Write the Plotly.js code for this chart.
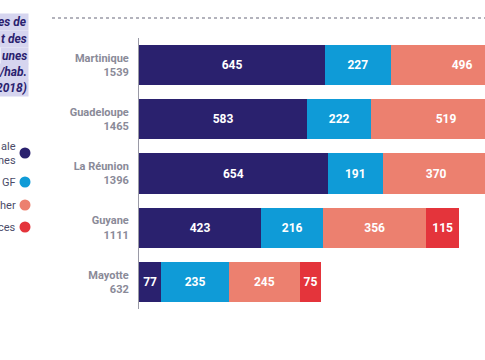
<!DOCTYPE html>
<html>
<head>
<meta charset="utf-8">
<script src="https://cdn.plot.ly/plotly-3.0.1.min.js"></script>
<style>html,body{margin:0;padding:0;background:#fff;}#chart{width:485px;height:360px;}</style>
</head>
<body>
<div id="chart"></div>
<script>
// Data
const territories = ["Martinique", "Guadeloupe", "La Réunion", "Guyane", "Mayotte"];
const totals = [1539, 1465, 1396, 1111, 632];
const seriesNames = ["ale nes", "GF", "her", "ces"];
const s1 = [645, 583, 654, 423, 77];
const s2 = [227, 222, 191, 216, 235];
const s3 = [496, 519, 370, 356, 245];
const s4 = [171, 141, 181, 115, 75];
// labels of the 4th segment are only visible (inside the crop) for the last two rows
const s4Labels = ["", "", "", "115", "75"];
const titleLines = ["es de", "t des", "unes", "/hab.", "2018)"];
const legendLabels = ["ale<br>nes", "GF", "her", "ces"];

const colors = ["#2a216e", "#0f9bd7", "#ec806f", "#e4343b"];
const series = [s1, s2, s3, s4];
const labels = [s1.map(String), s2.map(String), s3.map(String), s4Labels];

// pixel helpers (plot area: x 139..485, y 38..309)
const L = 139, R = 485, T = 38, B = 309;
const px = x => (x - L) / (R - L);
const py = y => (B - y) / (B - T);

const traces = series.map((vals, i) => ({
  type: "bar",
  orientation: "h",
  name: seriesNames[i],
  y: territories,
  x: vals,
  text: labels[i],
  textposition: "inside",
  insidetextanchor: "middle",
  constraintext: "none",
  textfont: {color: "#ffffff", size: 12, family: "Roboto", weight: "bold"},
  marker: {color: colors[i], line: {width: 0}},
  hoverinfo: "none",
  showlegend: false,
  cliponaxis: true
}));

const annotations = [];
const titleY = [22, 39, 56, 72, 88];
titleLines.forEach((t, i) => {
  annotations.push({
    xref: "paper", yref: "paper", x: px(29), y: py(titleY[i]),
    xanchor: "right", yanchor: "middle", showarrow: false,
    text: "<b><i>" + t + "</i></b>",
    font: {family: "Roboto", size: 12, color: "#2a216e"},
    bgcolor: "#d6d5ef", borderpad: 1
  });
});
const legY = [153.5, 182, 205, 227];
legendLabels.forEach((t, i) => {
  annotations.push({
    xref: "paper", yref: "paper", x: px(18), y: py(legY[i]),
    xanchor: "right", yanchor: "middle", align: "right", showarrow: false,
    text: t,
    font: {family: "Roboto", size: 11, color: "#4b4b68"}
  });
});

const shapes = [{
  type: "line", xref: "paper", yref: "paper",
  x0: px(52), x1: px(490), y0: py(18), y1: py(18),
  line: {color: "#9a9aa6", width: 1.5, dash: "dot"}
}];
const dotY = [153, 182, 205, 227];
dotY.forEach((y, i) => {
  shapes.push({
    type: "circle", xref: "paper", yref: "paper",
    xsizemode: "pixel", ysizemode: "pixel",
    xanchor: px(25), yanchor: py(y),
    x0: -5.5, x1: 5.5, y0: -5.5, y1: 5.5,
    fillcolor: colors[i], line: {width: 0}
  });
});

const layout = {
  width: 485, height: 360,
  margin: {l: L, r: 485 - R, t: T, b: 360 - B, pad: 0},
  paper_bgcolor: "#ffffff", plot_bgcolor: "#ffffff",
  barmode: "stack",
  bargap: 0.26,
  showlegend: false,
  font: {family: "Roboto", color: "#8a8a98"},
  xaxis: {range: [0, (R - L) / 0.2885], visible: false, fixedrange: true},
  yaxis: {
    autorange: "reversed",
    tickmode: "array",
    tickvals: territories,
    ticktext: territories.map((t, i) => t + "<br>" + totals[i]),
    tickfont: {family: "Roboto", size: 11, color: "#8a8a98", weight: "bold"},
    showline: true, linecolor: "#9a9aa6", linewidth: 1,
    ticks: "outside", ticklen: 7, tickcolor: "rgba(0,0,0,0)",
    showgrid: false, zeroline: false, fixedrange: true
  },
  annotations: annotations,
  shapes: shapes
};

Plotly.newPlot("chart", traces, layout, {displayModeBar: false, staticPlot: true});
</script>
</body>
</html>
